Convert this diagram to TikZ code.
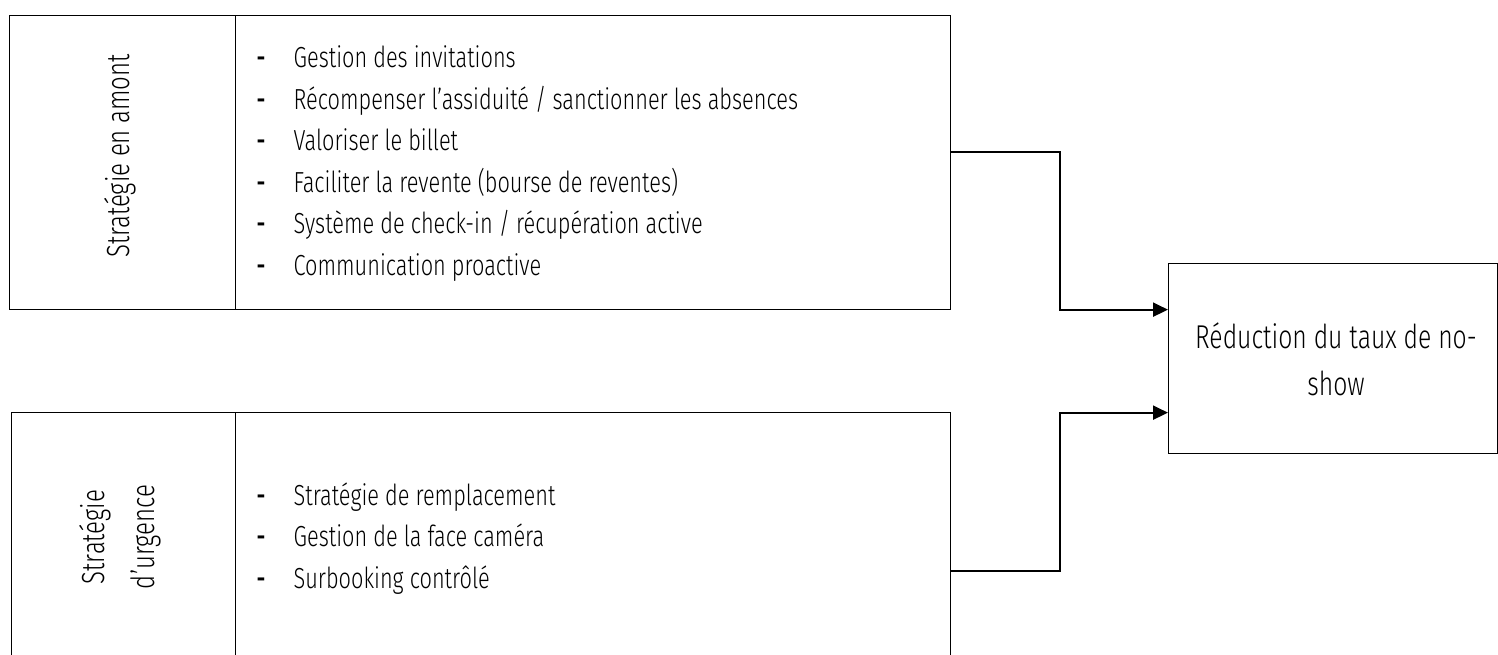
\documentclass[tikz,border=0pt]{standalone}
\usepackage{fontspec}
\setmainfont{Fira Sans}[UprightFont=* Light, BoldFont=* Medium, FakeStretch=0.75]
\usetikzlibrary{arrows.meta}

\begin{document}
\begin{tikzpicture}[x = 1pt, y = -1pt,
        every node/.style={inner sep=0pt, font=\fontsize{29}{41.6}\selectfont},
        box/.style={draw, line width=1.3pt, anchor=north west},
        every path/.style={line width=1.3pt}
]
    \useasboundingbox[fill=white] (0,0) rectangle (1498,655);
    % haut : strategie en amont
    \node[box, minimum width=226pt, minimum height=294pt] (amonttitle) at (9,15) {};
    \node[box, minimum width=715pt, minimum height=294pt] (amontbox) at (235,15) {};
    \node[rotate=90, font=\fontsize{32}{47}\selectfont] (amontlabel) at (120,156) {Stratégie en amont};
    \node[anchor=north west, align=left] (amontlist) at (256,45) {%
        \makebox[37pt][l]{\textbf{-}}Gestion des invitations\\
        \makebox[37pt][l]{\textbf{-}}Récompenser l’assiduité / sanctionner les absences\\
        \makebox[37pt][l]{\textbf{-}}Valoriser le billet\\
        \makebox[37pt][l]{\textbf{-}}Faciliter la revente (bourse de reventes)\\
        \makebox[37pt][l]{\textbf{-}}Système de check-in / récupération active\\
        \makebox[37pt][l]{\textbf{-}}Communication proactive};
    % bas : strategie d'urgence
    \node[box, minimum width=224pt, minimum height=316pt] (urgencetitle) at (11,412) {};
    \node[box, minimum width=715pt, minimum height=316pt] (urgencebox) at (235,412) {};
    \node[rotate=90, align=center, font=\fontsize{32}{50}\selectfont] (urgencelabel) at (120,537) {Stratégie\\d’urgence};
    \node[anchor=north west, align=left] (urgencelist) at (256,482) {%
        \makebox[37pt][l]{\textbf{-}}Stratégie de remplacement\\
        \makebox[37pt][l]{\textbf{-}}Gestion de la face caméra\\
        \makebox[37pt][l]{\textbf{-}}Surbooking contrôlé};
    % resultat
    \node[box, minimum width=329pt, minimum height=190pt] (noshow) at (1168,263) {};
    \node[anchor=north, align=center, font=\fontsize{33}{47}\selectfont] (noshowlabel) at (1336,322) {Réduction du taux de no-\\show};

\begin{scope}[every path/.style={line width=2pt, -{Triangle[length=15pt, width=14pt]}}]
    \draw ([yshift=11pt]amontbox.east) -- ++(109,0) |- ([yshift=49pt]noshow.west);
    \draw (urgencebox.east) -- ++(109,0) |- ([yshift=-54pt]noshow.west);
\end{scope}

\end{tikzpicture}
\end{document}
